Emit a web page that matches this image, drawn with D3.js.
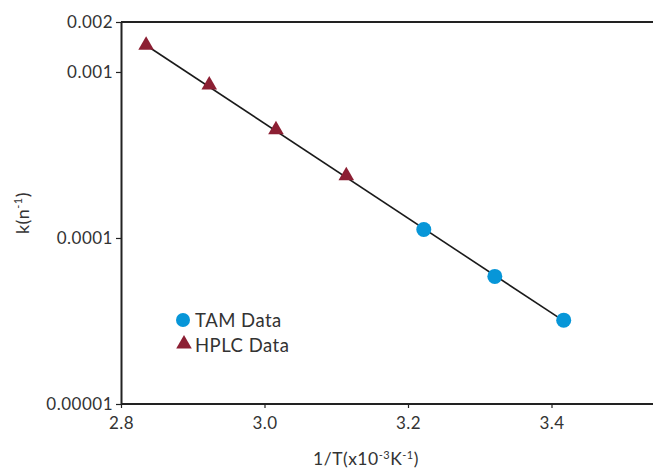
<!DOCTYPE html>
<html>
<head>
<meta charset="utf-8">
<script src="https://cdn.jsdelivr.net/npm/d3@7"></script>
<style>
  body { margin: 0; background: #fff; }
  svg { display: block; }
  text { font-family: Lato, "DejaVu Sans", sans-serif; fill: #333; letter-spacing: 0.5px; }
</style>
</head>
<body>
<svg id="chart" width="653" height="469"></svg>
<script>
// ---- data ----
const hplcX = [2.835, 2.923, 3.016, 3.114];
const hplcK = [0.00143, 0.000824, 0.000442, 0.000234];
const tamX = [3.222, 3.321, 3.417];
const tamK = [0.0001125, 0.0000587, 0.0000320];
const xTicks = [2.8, 3.0, 3.2, 3.4];
const yTicks = [0.00001, 0.0001, 0.001, 0.002];
const yTickLabels = ["0.00001", "0.0001", "0.001", "0.002"];
const legendLabels = ["TAM Data", "HPLC Data"];

const W = 653, H = 469;
const margin = { left: 121, top: 22, bottom: 404 };
const svg = d3.select("#chart");

const x = d3.scaleLinear().domain([2.8, 3.6]).range([margin.left, margin.left + 4 * 143.5]);
const y = d3.scaleLog().domain([0.00001, 0.002]).range([margin.bottom, margin.top]);

const hplc = hplcX.map((v, i) => ({ x: v, k: hplcK[i] }));
const tam = tamX.map((v, i) => ({ x: v, k: tamK[i] }));
const all = hplc.concat(tam);

// top border
svg.append("line")
  .attr("x1", x(2.8)).attr("x2", W)
  .attr("y1", y(0.002)).attr("y2", y(0.002))
  .attr("stroke", "#222").attr("stroke-width", 2);

const tickFont = "Lato, 'DejaVu Sans', sans-serif";

// x axis
const xAxis = svg.append("g")
  .attr("transform", `translate(0,${y(0.00001)})`)
  .call(d3.axisBottom(x).tickValues(xTicks).tickFormat(d3.format(".1f")).tickSize(4).tickSizeOuter(0));
xAxis.select(".domain").attr("stroke", "#222").attr("stroke-width", 2)
  .attr("d", `M${x(2.8)},0H${W}`);
xAxis.selectAll(".tick line").attr("stroke", "#222").attr("stroke-width", 1.2);
xAxis.selectAll(".tick text").attr("y", 9).attr("dy", "0.95em").style("font-size", "17px").style("fill", "#333")
  .style("font-family", tickFont);

// y axis
const yAxis = svg.append("g")
  .attr("transform", `translate(${x(2.8)},0)`)
  .call(d3.axisLeft(y).tickValues(yTicks).tickFormat((d, i) => yTickLabels[i]).tickSize(5).tickSizeOuter(0));
yAxis.select(".domain").attr("stroke", "#222").attr("stroke-width", 2);
yAxis.selectAll(".tick line").attr("stroke", "#222").attr("stroke-width", 1.2);
yAxis.selectAll(".tick text").attr("x", -8).attr("dy", "0.35em").style("font-size", "17px").style("fill", "#333")
  .style("font-family", tickFont);

// fit line (linear regression of log10 k vs x)
const lx = all.map(d => d.x), ly = all.map(d => Math.log10(d.k));
const mx = d3.mean(lx), my = d3.mean(ly);
const slope = d3.sum(lx.map((v, i) => (v - mx) * (ly[i] - my))) / d3.sum(lx.map(v => (v - mx) ** 2));
const icpt = my - slope * mx;
const x0 = d3.min(lx), x1 = d3.max(lx);
svg.append("path")
  .datum([x0, x1])
  .attr("d", d3.line().x(d => x(d)).y(d => y(Math.pow(10, icpt + slope * d))))
  .attr("stroke", "#1a1a1a").attr("stroke-width", 1.6).attr("fill", "none");

const triColor = "#8c1f33", cirColor = "#0796d8";
const tri = d3.symbol().type(d3.symbolTriangle).size(105);

svg.selectAll(".hplc").data(hplc).enter().append("path")
  .attr("d", tri)
  .attr("transform", d => `translate(${x(d.x)},${y(d.k) - 1})`)
  .attr("fill", triColor);

svg.selectAll(".tam").data(tam).enter().append("circle")
  .attr("cx", d => x(d.x)).attr("cy", d => y(d.k)).attr("r", 7.5)
  .attr("fill", cirColor);

// legend
const lg = svg.append("g");
lg.append("circle").attr("cx", 183).attr("cy", 320).attr("r", 7).attr("fill", cirColor);
lg.append("path").attr("d", tri).attr("transform", "translate(184,344)").attr("fill", triColor);
lg.selectAll("text").data(legendLabels).enter().append("text")
  .attr("x", 195).attr("y", (d, i) => 327 + i * 25)
  .style("font-size", "18.5px").text(d => d);

// axis titles
const xt = svg.append("text").attr("x", 366).attr("y", 465).attr("text-anchor", "middle").style("font-size", "17.5px");
xt.append("tspan").text("1/T(x10");
xt.append("tspan").attr("dy", -6).style("font-size", "11px").text("-3");
xt.append("tspan").attr("dy", 6).text("K");
xt.append("tspan").attr("dy", -6).style("font-size", "11px").text("-1");
xt.append("tspan").attr("dy", 6).text(")");

const yt = svg.append("text").attr("transform", "translate(29,213) rotate(-90)").attr("text-anchor", "middle").style("font-size", "18px");
yt.append("tspan").text("k(n");
yt.append("tspan").attr("dy", -7).style("font-size", "11px").text("-1");
yt.append("tspan").attr("dy", 7).text(")");
</script>
</body>
</html>
